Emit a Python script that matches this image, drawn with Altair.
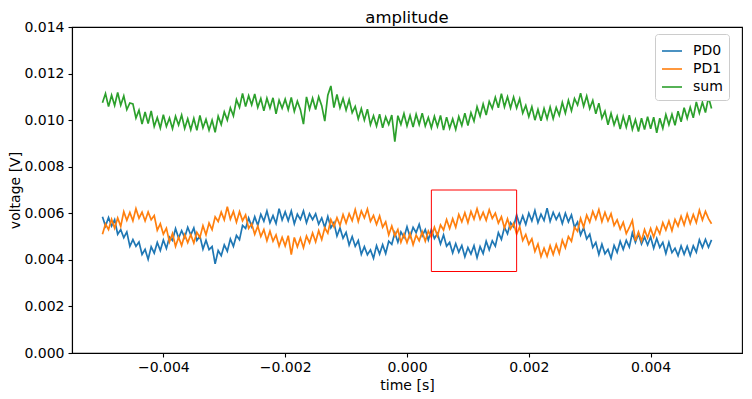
import altair as alt
import numpy as np
import pandas as pd

# time grid: 201 samples from -0.005 s to 0.005 s
n_samples = 201
t_start, t_stop = -0.005, 0.005

# values, in millivolts
pd0_mV = [
    5.85, 5.45, 5.82, 5.45, 5.73, 5.10, 5.30, 4.95, 5.20, 4.58,
    4.87, 4.58, 4.77, 4.23, 4.45, 4.02, 4.56, 4.29, 4.75, 4.40,
    4.85, 4.49, 4.98, 4.83, 5.34, 4.94, 5.25, 4.96, 5.40, 5.07,
    5.37, 4.83, 5.02, 4.46, 4.84, 4.44, 4.57, 3.83, 4.40, 4.18,
    4.64, 4.37, 4.90, 4.58, 5.05, 4.87, 5.48, 5.35, 5.80, 5.43,
    5.85, 5.48, 5.96, 5.66, 6.10, 5.59, 5.90, 5.56, 6.20, 5.71,
    6.06, 5.68, 6.10, 5.55, 5.96, 5.73, 6.10, 5.59, 5.98, 5.73,
    5.98, 5.53, 5.80, 5.39, 5.86, 5.38, 5.60, 5.02, 5.37, 4.93,
    5.18, 4.64, 5.00, 4.58, 4.83, 4.24, 4.57, 4.22, 4.43, 4.07,
    4.61, 4.25, 4.65, 4.27, 4.80, 4.67, 5.16, 4.76, 5.20, 4.96,
    5.42, 4.98, 5.40, 5.17, 5.53, 5.03, 5.30, 4.85, 5.30, 4.92,
    5.13, 4.68, 5.07, 4.59, 4.75, 4.30, 4.70, 4.33, 4.62, 4.13,
    4.53, 4.25, 4.61, 4.09, 4.57, 4.27, 4.80, 4.43, 4.82, 4.59,
    5.17, 4.88, 5.40, 5.12, 5.60, 5.42, 5.93, 5.50, 5.89, 5.52,
    6.00, 5.67, 6.12, 5.60, 5.96, 5.69, 6.22, 5.65, 6.04, 5.73,
    5.99, 5.56, 6.00, 5.63, 5.93, 5.39, 5.62, 5.07, 5.38, 4.90,
    5.10, 4.53, 4.75, 4.23, 4.67, 4.26, 4.45, 4.07, 4.62, 4.32,
    4.80, 4.45, 4.84, 4.55, 5.16, 4.75, 5.12, 4.68, 4.98, 4.64,
    4.98, 4.50, 4.92, 4.53, 4.75, 4.27, 4.75, 4.31, 4.50, 4.18,
    4.60, 4.24, 4.58, 4.19, 4.60, 4.33, 4.86, 4.53, 4.88, 4.54,
    4.86,
]

pd1_mV = [
    5.10, 5.54, 5.30, 5.74, 5.36, 5.80, 5.44, 6.07, 5.70, 6.04,
    5.68, 6.20, 5.79, 6.05, 5.67, 6.06, 5.72, 5.90, 5.27, 5.55,
    5.10, 5.36, 4.77, 5.13, 4.58, 4.97, 4.62, 5.08, 4.74, 5.08,
    4.72, 5.18, 4.96, 5.47, 5.08, 5.58, 5.30, 5.85, 5.65, 6.05,
    5.72, 6.28, 5.75, 6.08, 5.62, 6.07, 5.68, 5.93, 5.35, 5.55,
    5.10, 5.45, 5.00, 5.30, 4.82, 5.23, 4.80, 5.07, 4.59, 4.97,
    4.60, 5.04, 4.23, 4.96, 4.56, 4.94, 4.52, 5.02, 4.73, 5.15,
    4.77, 5.25, 4.87, 5.38, 5.15, 5.73, 5.43, 5.81, 5.48, 5.95,
    5.58, 5.98, 5.68, 6.16, 5.65, 6.10, 5.80, 6.18, 5.65, 5.91,
    5.52, 5.89, 5.40, 5.63, 5.07, 5.45, 5.03, 5.30, 4.75, 5.11,
    4.74, 5.13, 4.65, 5.06, 4.82, 5.21, 4.80, 5.24, 4.97, 5.40,
    5.03, 5.50, 5.28, 5.73, 5.35, 5.77, 5.40, 5.95, 5.63, 6.02,
    5.60, 6.08, 5.75, 6.19, 5.74, 6.04, 5.70, 6.15, 5.78, 6.01,
    5.58, 5.85, 5.37, 5.76, 5.33, 5.57, 5.10, 5.42, 4.83, 5.09,
    4.67, 4.90, 4.36, 4.68, 4.14, 4.50, 4.15, 4.61, 4.23, 4.66,
    4.28, 4.85, 4.52, 5.00, 4.80, 5.40, 5.23, 5.78, 5.40, 5.92,
    5.62, 6.08, 5.75, 6.16, 5.64, 6.04, 5.67, 5.98, 5.48, 5.72,
    5.32, 5.61, 5.13, 5.39, 5.70, 4.81, 5.20, 4.81, 5.30, 4.95,
    5.35, 4.98, 5.40, 5.12, 5.60, 5.28, 5.67, 5.25, 5.73, 5.45,
    5.87, 5.50, 5.97, 5.56, 5.95, 5.60, 6.13, 5.71, 6.08, 5.77,
    5.55,
]

sum_mV = [
    10.75, 11.14, 10.58, 11.07, 10.63, 11.19, 10.64, 11.04, 10.45, 10.74,
    10.70, 10.09, 10.43, 9.83, 10.35, 9.85, 10.40, 9.73, 10.11, 9.66,
    10.23, 9.73, 10.09, 9.63, 10.17, 9.79, 10.22, 9.64, 10.06, 9.59,
    10.08, 9.56, 10.20, 9.67, 10.04, 9.57, 10.00, 9.48, 10.17, 9.81,
    10.35, 10.00, 10.53, 10.18, 10.88, 10.55, 11.15, 10.58, 11.05, 10.66,
    11.12, 10.55, 10.93, 10.40, 10.94, 10.52, 10.96, 10.27, 10.86, 10.51,
    10.90, 10.45, 10.97, 10.38, 10.81, 10.45, 9.83, 11.00, 10.47, 10.94,
    10.46, 11.00, 10.62, 9.96, 11.07, 11.47, 10.54, 11.10, 10.53, 10.93,
    10.43, 10.88, 10.32, 10.59, 10.05, 10.49, 10.00, 10.47, 9.80, 10.19,
    9.75, 10.26, 9.67, 10.14, 9.81, 10.22, 9.08, 10.19, 9.82, 10.28,
    9.75, 10.20, 9.70, 10.25, 9.81, 10.30, 9.75, 10.11, 9.67, 10.16,
    9.73, 10.20, 9.57, 10.13, 9.65, 10.05, 9.60, 10.15, 9.77, 10.30,
    9.77, 10.32, 9.96, 10.57, 10.17, 10.69, 10.22, 10.80, 10.50, 10.98,
    10.53, 11.14, 10.57, 11.00, 10.52, 10.99, 10.52, 10.92, 10.30, 10.63,
    10.15, 10.57, 10.00, 10.46, 9.97, 10.50, 10.06, 10.56, 10.06, 10.54,
    10.20, 10.76, 10.30, 10.85, 10.40, 10.93, 10.65, 11.16, 10.60, 11.04,
    10.50, 10.85, 10.27, 10.73, 10.08, 10.38, 9.80, 10.29, 9.80, 10.17,
    9.62, 10.16, 9.70, 10.21, 9.60, 10.02, 9.51, 10.08, 9.60, 10.15,
    9.63, 10.13, 9.46, 10.08, 9.65, 10.24, 9.80, 10.25, 9.78, 10.38,
    9.93, 10.53, 10.08, 10.55, 10.10, 10.78, 10.30, 10.77, 10.33, 10.98,
    10.50,
]

series_names = ["PD0", "PD1", "sum"]
series_colors = ["#1f77b4", "#ff7f0e", "#2ca02c"]

x_ticks = [-0.004, -0.002, 0.0, 0.002, 0.004]
y_ticks = [0.0, 0.002, 0.004, 0.006, 0.008, 0.010, 0.012, 0.014]
x_domain = [-0.0055, 0.0055]
y_domain = [0.0, 0.014]

# red box (data coordinates)
box_time = [0.0004, 0.0018]
box_voltage = [0.0035, 0.007]

time = np.round(np.linspace(t_start, t_stop, n_samples), 7)
frames = []
for name, vals in zip(series_names, [pd0_mV, pd1_mV, sum_mV]):
    frames.append(pd.DataFrame({
        "time": time,
        "voltage": np.array(vals) / 1000.0,
        "signal": name,
    }))
df = pd.concat(frames, ignore_index=True)

box_df = pd.DataFrame({
    "t0": [box_time[0]], "t1": [box_time[1]],
    "v0": [box_voltage[0]], "v1": [box_voltage[1]],
})

FONT = "DejaVu Sans"

x_enc = alt.X(
    "time:Q",
    scale=alt.Scale(domain=x_domain, nice=False, zero=False),
    axis=alt.Axis(values=x_ticks, format=".3f", title="time [s]", grid=False,
                  tickSize=4, labelPadding=3,
                  titleBaseline="middle", titleY=32),
)
y_enc = alt.Y(
    "voltage:Q",
    scale=alt.Scale(domain=y_domain, nice=False, zero=False),
    axis=alt.Axis(values=y_ticks, format=".3f", title="voltage [V]", grid=False,
                  tickSize=4, labelPadding=4,
                  titleBaseline="middle", titleX=-57, titleY=163),
)

lines = alt.Chart(df).mark_line(strokeWidth=1.7, clip=True).encode(
    x=x_enc,
    y=y_enc,
    color=alt.Color(
        "signal:N",
        scale=alt.Scale(domain=series_names, range=series_colors),
        sort=series_names,
        legend=alt.Legend(
            title=None, orient="none", legendX=583, legendY=7,
            symbolType="stroke", symbolSize=400, symbolStrokeWidth=2,
            symbolOpacity=0.8,
            labelFontSize=14, labelFont=FONT, labelColor="black",
            padding=6, strokeColor="#cccccc", fillColor="white",
            cornerRadius=3, rowPadding=0, labelOffset=10,
        ),
    ),
    detail="signal:N",
)

box = alt.Chart(box_df).mark_rect(
    fillOpacity=0, stroke="#ff0000", strokeWidth=1
).encode(
    x="t0:Q", x2="t1:Q", y="v0:Q", y2="v1:Q"
)

chart = alt.layer(lines, box).properties(
    width=670,
    height=326,
    title=alt.TitleParams("amplitude", fontSize=16.5, font=FONT, fontWeight="normal",
                          color="black", anchor="middle", offset=0, dy=6),
    autosize=alt.AutoSizeParams(type="none"),
    padding={"left": 64, "top": 19, "right": 2, "bottom": 44},
).configure_view(
    stroke="black", strokeWidth=1.1
).configure_axis(
    labelFont=FONT, labelFontSize=14, labelColor="black",
    titleFont=FONT, titleFontSize=14, titleColor="black", titleFontWeight="normal",
    domainColor="black", domainWidth=1.1, tickColor="black", tickWidth=1.1,
)

chart.save("out.html", embed_options={"renderer": "svg", "actions": False})
